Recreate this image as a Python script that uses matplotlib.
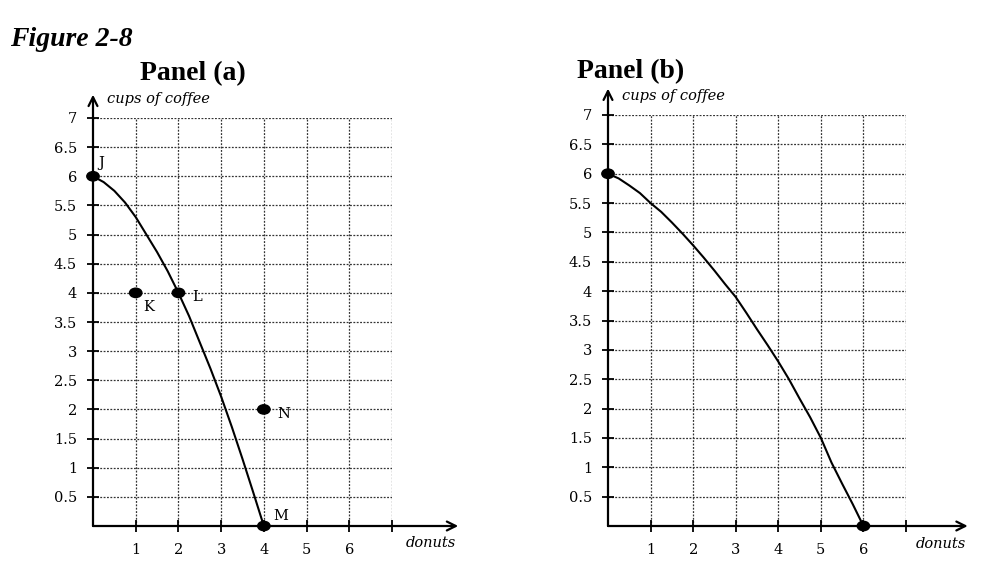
import matplotlib.pyplot as plt
from matplotlib.patches import Ellipse

# curve readings (donuts, cups of coffee)
a_x = [0, 0.25, 0.5, 0.75, 1, 1.25, 1.5, 1.75, 2, 2.25, 2.5, 2.75, 3,
       3.25, 3.5, 3.75, 4]
a_y = [6, 5.9, 5.75, 5.55, 5.3, 5.0, 4.7, 4.37, 4.0, 3.6, 3.15, 2.7, 2.22,
       1.7, 1.15, 0.58, 0]
b_x = [0, 0.25, 0.5, 0.75, 1, 1.25, 1.5, 1.75, 2, 2.25, 2.5, 2.75, 3,
       3.25, 3.5, 3.75, 4, 4.25, 4.5, 4.75, 5, 5.25, 5.5, 5.75, 6]
b_y = [6, 5.92, 5.8, 5.67, 5.5, 5.35, 5.17, 4.98, 4.78, 4.57, 4.35, 4.12,
       3.9, 3.63, 3.35, 3.08, 2.8, 2.5, 2.17, 1.85, 1.5, 1.08, 0.72, 0.37, 0]

a_labels = ["J", "K", "L", "N", "M"]
a_pts_x = [0, 1, 2, 4, 4]
a_pts_y = [6, 4, 4, 2, 0]
a_offsets = [(8, 13), (13, -14), (19, -4), (20, -5), (17, 10)]

b_pts_x = [0, 6]
b_pts_y = [6, 0]

xticks = [1, 2, 3, 4, 5, 6, 7]
xticklabels = ["1", "2", "3", "4", "5", "6", ""]
yticks = [0.5, 1, 1.5, 2, 2.5, 3, 3.5, 4, 4.5, 5, 5.5, 6, 6.5, 7]
yticklabels = ["0.5", "1", "1.5", "2", "2.5", "3", "3.5", "4", "4.5", "5",
               "5.5", "6", "6.5", "7"]

title_font = "Liberation Serif"
small_font = "DejaVu Serif"
plt.rcParams["font.family"] = small_font

fig = plt.figure(figsize=(9.86, 5.66), dpi=100)
ax_a = fig.add_axes([93 / 986, 40 / 566, 299 / 986, 408 / 566])
ax_b = fig.add_axes([608 / 986, 40 / 566, 298 / 986, 411 / 566])


def setup(ax, xarrow, yarrow):
    ax.set_xlim(0, 7)
    ax.set_ylim(0, 7)
    for s in ax.spines.values():
        s.set_visible(False)
    for t in yticks:
        ax.axhline(t, color="#333333", ls=(0, (1.5, 1.2)), lw=0.9, zorder=1)
    for t in xticks:
        ax.axvline(t, color="#333333", ls=(0, (1.5, 1.2)), lw=0.9, zorder=1)
    ax.set_xticks(xticks)
    ax.set_xticklabels(xticklabels, fontsize=10.5)
    ax.set_yticks(yticks)
    ax.set_yticklabels(yticklabels, fontsize=10.5)
    ax.tick_params(axis="both", direction="inout", length=9, width=1.3,
                   color="black")
    ax.tick_params(axis="x", pad=8)
    ax.tick_params(axis="y", pad=7)
    ax.annotate("", xy=(xarrow, 0), xytext=(0, 0),
                arrowprops=dict(arrowstyle="->", lw=1.6, color="black",
                                shrinkA=0, shrinkB=0, mutation_scale=16),
                annotation_clip=False)
    ax.annotate("", xy=(0, yarrow), xytext=(0, 0),
                arrowprops=dict(arrowstyle="->", lw=1.6, color="black",
                                shrinkA=0, shrinkB=0, mutation_scale=16),
                annotation_clip=False)
    ax.text(0.32, 7.33, "cups of coffee", fontsize=10.5, style="italic",
            va="center", ha="left")
    ax.text(xarrow - 0.05, -0.3, "donuts", fontsize=10.5, style="italic",
            va="center", ha="right")


def dots(ax, xs, ys):
    for x, y in zip(xs, ys):
        ax.add_patch(Ellipse((x, y), 0.29, 0.16, color="black", zorder=5,
                             clip_on=False))


setup(ax_a, 8.55, 7.4)
ax_a.plot(a_x, a_y, color="black", lw=1.5, zorder=3, clip_on=False)
dots(ax_a, a_pts_x, a_pts_y)
for lab, x, y, off in zip(a_labels, a_pts_x, a_pts_y, a_offsets):
    ax_a.annotate(lab, (x, y), xytext=off, textcoords="offset pixels",
                  fontsize=10.5, ha="center", va="center")

setup(ax_b, 8.45, 7.45)
ax_b.plot(b_x, b_y, color="black", lw=1.5, zorder=3, clip_on=False)
dots(ax_b, b_pts_x, b_pts_y)

fig.text(10 / 986, 1 - 40 / 566, "Figure 2-8", fontsize=20, weight="bold",
         style="italic", va="center", ha="left", family=title_font)
fig.text(193 / 986, 1 - 74 / 566, "Panel (a)", fontsize=20, weight="bold",
         va="center", ha="center", family=title_font)
fig.text(631 / 986, 1 - 72 / 566, "Panel (b)", fontsize=20, weight="bold",
         va="center", ha="center", family=title_font)

fig.savefig("out.png", dpi=100)
